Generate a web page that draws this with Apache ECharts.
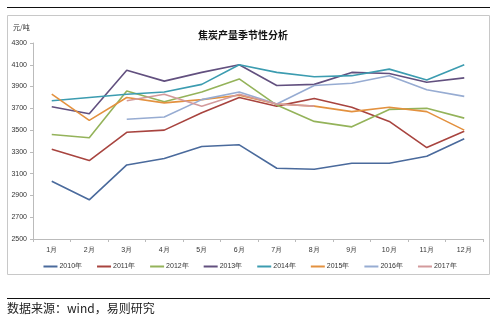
<!DOCTYPE html>
<html><head><meta charset="utf-8">
<script src="https://cdn.jsdelivr.net/npm/echarts@6/dist/echarts.min.js"></script>
<style>html,body{margin:0;padding:0;background:#fff}#c{width:500px;height:322px}</style>
</head><body><div id="c"></div>
<script>
const months = ['1月','2月','3月','4月','5月','6月','7月','8月','9月','10月','11月','12月'];
const yTicks = [2500, 2700, 2900, 3100, 3300, 3500, 3700, 3900, 4100, 4300];
const seriesNames = ['2010年','2011年','2012年','2013年','2014年','2015年','2016年','2017年'];
const y2010 = [3030, 2860, 3180, 3240, 3350, 3365, 3150, 3140, 3195, 3195, 3260, 3420];
const y2011 = [3325, 3220, 3480, 3500, 3660, 3800, 3720, 3790, 3710, 3580, 3340, 3490];
const y2012 = [3460, 3430, 3860, 3760, 3850, 3970, 3730, 3580, 3530, 3690, 3700, 3610];
const y2013 = [3715, 3650, 4050, 3950, 4030, 4100, 3910, 3920, 4030, 4020, 3940, 3980];
const y2014 = [3770, 3800, 3830, 3850, 3920, 4100, 4030, 3990, 4000, 4060, 3960, 4100];
const y2015 = [3830, 3590, 3800, 3750, 3780, 3820, 3740, 3720, 3670, 3710, 3670, 3500];
const y2016 = [null, null, 3600, 3620, 3780, 3850, 3740, 3910, 3930, 4000, 3870, 3810];
const y2017 = [null, null, 3770, 3830, 3720, 3830, 3740, 3720, null, null, null, null];
const values = [y2010, y2011, y2012, y2013, y2014, y2015, y2016, y2017];
const colors = ['#4A6A9C', '#A8443F', '#94B35A', '#62507F', '#3C9CB0', '#E3913F', '#97ACD2', '#D39A9C'];

const chart = echarts.init(document.getElementById('c'), null, {renderer: 'canvas'});
chart.setOption({
  animation: false,
  color: colors,
  title: {
    text: '焦炭产量季节性分析', left: 238, top: 25, textAlign: 'center',
    textStyle: {fontSize: 10, fontWeight: 'bold', color: '#111', fontFamily: 'Noto Sans CJK SC'}
  },
  graphic: [
    {type: 'line', shape: {x1: 7, y1: 7.5, x2: 490, y2: 7.5}, style: {stroke: '#111', lineWidth: 1}},
    {type: 'rect', shape: {x: 7.5, y: 15.5, width: 482, height: 259}, style: {fill: 'none', stroke: '#c8c8c8', lineWidth: 1}, z: -1},
    {type: 'line', shape: {x1: 7, y1: 298.5, x2: 490, y2: 298.5}, style: {stroke: '#111', lineWidth: 1}},
    {type: 'text', left: 7, top: 302, style: {text: '数据来源：wind，易则研究', fontSize: 12, fill: '#222', fontFamily: 'Noto Sans CJK SC'}},
    {type: 'text', left: 13, top: 24, style: {text: '元/吨', fontSize: 7, fill: '#333', fontFamily: 'Noto Sans CJK SC'}}
  ],
  legend: {
    data: seriesNames, top: 258, left: 'center', itemGap: 15, itemWidth: 14, itemHeight: 2,
    icon: 'rect',
    textStyle: {fontSize: 7, color: '#333', padding: [0, 0, 0, -3]}
  },
  grid: {left: 33, right: 17, top: 43, bottom: 83},
  xAxis: {
    type: 'category', data: months, boundaryGap: true,
    axisLine: {lineStyle: {color: '#bbb'}},
    axisTick: {show: true, alignWithLabel: false, length: 3, lineStyle: {color: '#bbb'}},
    axisLabel: {fontSize: 7, color: '#333', margin: 8}
  },
  yAxis: {
    type: 'value', min: yTicks[0], max: yTicks[yTicks.length - 1], interval: 200,
    axisLine: {show: true, lineStyle: {color: '#bbb'}},
    axisTick: {show: true, length: 3, lineStyle: {color: '#bbb'}},
    splitLine: {show: false},
    axisLabel: {fontSize: 7, color: '#333', margin: 6, formatter: v => String(v)}
  },
  series: seriesNames.map((n, i) => ({
    name: n, type: 'line', data: values[i], symbol: 'none',
    lineStyle: {width: 1.6, color: colors[i]}, connectNulls: false
  }))
});
</script></body></html>
